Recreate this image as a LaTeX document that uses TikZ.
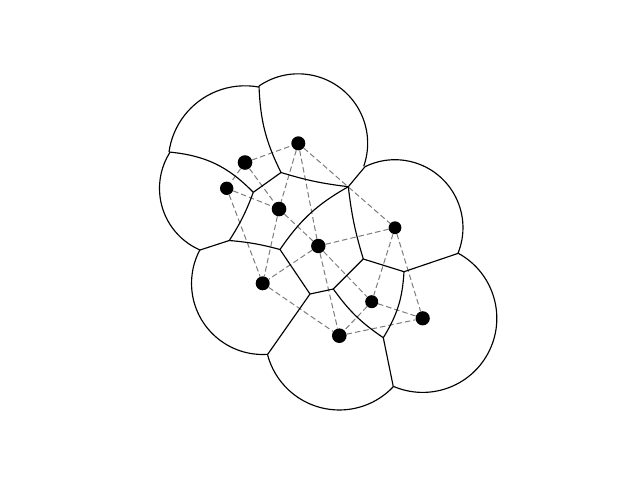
\documentclass[tikz,border=0pt]{standalone}
\usepackage{tikz}
\usetikzlibrary{calc}
\usepackage{xcolor}
\definecolor{cellline}{RGB}{0,0,0}
\definecolor{dualline}{RGB}{125,125,125}
\tikzset{
  % Weighted site (dot size ~ weight)
  site/.style={
    circle, fill=black, inner sep=0pt, minimum size=#1
  },
  site/.default=14pt,
  % Cell boundary (bisector pieces and outer arcs)
  cell/.style={
    draw=cellline, line width=1.15pt, line join=round
  },
  % Dual edge between neighbouring sites
  dual/.style={
    draw=dualline, dash pattern=on 5.5pt off 3pt, line width=1pt
  },
}
% Outer arc of a site's disk, clockwise from #2 to #3, centred on site #1
\newcommand{\cellarc}[3]{%
  \draw[cell] let \p1=($(#2)-(#1)$), \p2=($(#3)-(#1)$),
    \n1={atan2(\y1,\x1)}, \n2={atan2(\y2,\x2)}, \n3={veclen(\x1,\y1)}
    in (#2) arc[start angle=\n1, end angle={\n2-360*(\n2>\n1)}, radius=\n3];%
}

\begin{document}
\begin{tikzpicture}[x=1pt, y=-1pt]
\useasboundingbox (0,0) rectangle (640,480);

%% ── SITES ────────────────────────────────────────────────────────────────

\node[site=14.6pt] (A) at (245,162.5) {};
\node[site=14pt]   (B) at (298.3,143.3) {};
\node[site=13.4pt] (C) at (226.7,188.3) {};
\node[site=14.6pt] (D) at (279,209) {};
\node[site=14.4pt] (E) at (318.3,246) {};
\node[site=12.8pt] (F) at (395,227.7) {};
\node[site=14pt]   (G) at (262.7,283.3) {};
\node[site=13pt]   (H) at (371.7,301.7) {};
\node[site=14.2pt] (I) at (422.7,318.3) {};
\node[site=14.6pt] (J) at (339.3,335.7) {};

%% ── CELL VERTICES ────────────────────────────────────────────────────────

% inner vertices (named by the sites around them)
\coordinate (vABD)  at (281,172.5);
\coordinate (vACD)  at (253.3,192.3);
\coordinate (vCDG)  at (229.3,240.5);
\coordinate (vDEG)  at (280,249.5);
\coordinate (vBDEF) at (348.3,186.7);
\coordinate (vEFH)  at (363.3,259);
\coordinate (vFHI)  at (404,271.7);
\coordinate (vEHJ)  at (333.3,289);
\coordinate (vEGJ)  at (310,294);
\coordinate (vHIJ)  at (383.3,337.7);

% vertices on the outer boundary
\coordinate (vAB) at (259,86);
\coordinate (vBF) at (365,166.7);
\coordinate (vFI) at (458.3,253.3);
\coordinate (vIJ) at (393.3,386.7);
\coordinate (vGJ) at (267.7,354.3);
\coordinate (vCG) at (200,250);
\coordinate (vAC) at (169,152);

%% ── DUAL EDGES ───────────────────────────────────────────────────────────

\draw[dual] (A) -- (B);
\draw[dual] (A) -- (C);
\draw[dual] (A) -- (D);
\draw[dual] (B) -- (D);
\draw[dual] (B) -- (E);
\draw[dual] (B) -- (F);
\draw[dual] (C) -- (D);
\draw[dual] (C) -- (G);
\draw[dual] (D) -- (G);
\draw[dual] (D) -- (E);
\draw[dual] (E) -- (G);
\draw[dual] (E) -- (F);
\draw[dual] (E) -- (J);
\draw[dual] (E) -- (H);
\draw[dual] (G) -- (J);
\draw[dual] (F) -- (H);
\draw[dual] (F) -- (I);
\draw[dual] (H) -- (I);
\draw[dual] (H) -- (J);
\draw[dual] (J) -- (I);

%% ── INNER CELL EDGES ─────────────────────────────────────────────────────

\draw[cell] (vAB)   to[bend right=12] (vABD);
\draw[cell] (vABD)  -- (vACD);
\draw[cell] (vACD)  to[bend right=20] (vAC);
\draw[cell] (vABD)  to[bend right=5]  (vBDEF);
\draw[cell] (vACD)  to[bend left=6]   (vCDG);
\draw[cell] (vCDG)  -- (vCG);
\draw[cell] (vCDG)  to[bend left=5]   (vDEG);
\draw[cell] (vDEG)  to[bend left=13]  (vBDEF);
\draw[cell] (vBDEF) -- (vBF);
\draw[cell] (vBDEF) to[bend right=5]  (vEFH);
\draw[cell] (vEFH)  -- (vFHI);
\draw[cell] (vFHI)  -- (vFI);
\draw[cell] (vFHI)  to[bend left=14]  (vHIJ);
\draw[cell] (vEFH)  -- (vEHJ);
\draw[cell] (vEHJ)  -- (vEGJ);
\draw[cell] (vEGJ)  -- (vDEG);
\draw[cell] (vEGJ)  -- (vGJ);
\draw[cell] (vEHJ)  to[bend right=10] (vHIJ);
\draw[cell] (vHIJ)  -- (vIJ);

%% ── OUTER ARCS ───────────────────────────────────────────────────────────

\cellarc{A}{vAC}{vAB}
\cellarc{B}{vAB}{vBF}
\cellarc{F}{vBF}{vFI}
\cellarc{I}{vFI}{vIJ}
\cellarc{J}{vIJ}{vGJ}
\cellarc{G}{vGJ}{vCG}
\cellarc{C}{vCG}{vAC}

\end{tikzpicture}
\end{document}
